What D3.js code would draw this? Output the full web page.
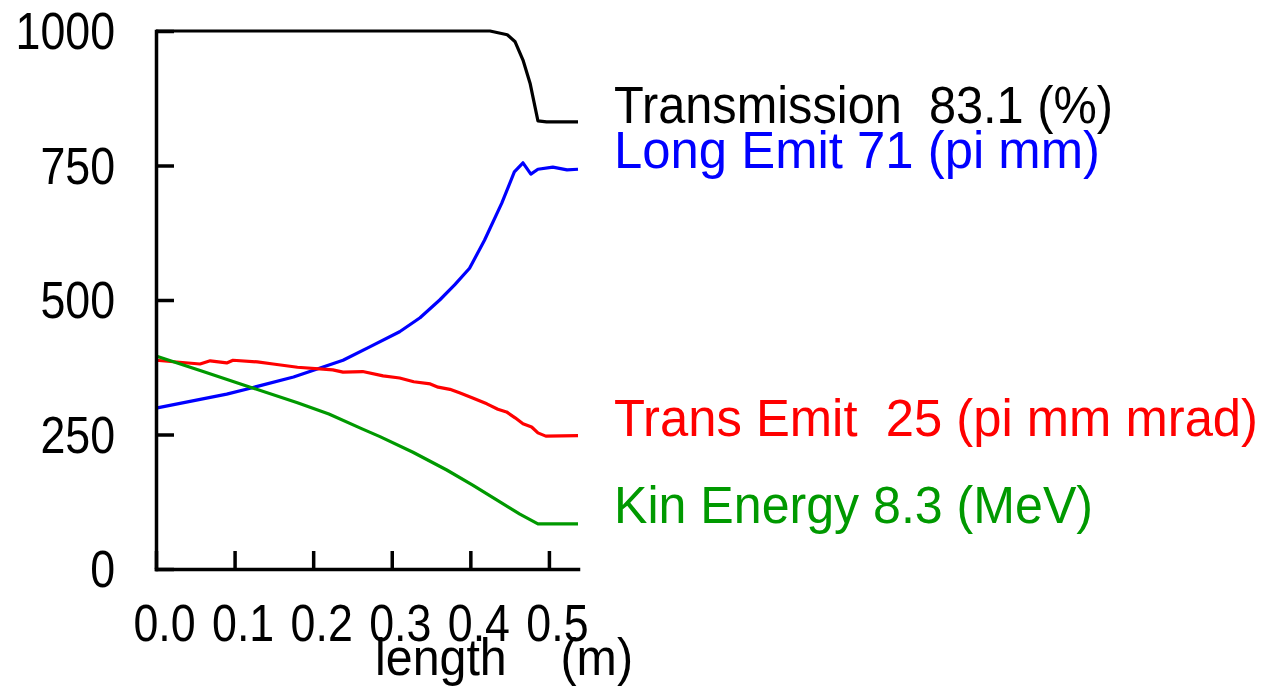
<!DOCTYPE html>
<html>
<head>
<meta charset="utf-8">
<script src="https://cdn.jsdelivr.net/npm/d3@7"></script>
<style>
  html, body { margin: 0; padding: 0; background: #fff; }
  svg text { font-family: "Liberation Sans", Arial, sans-serif; white-space: pre; }
</style>
</head>
<body>
<svg id="chart" width="1268" height="688"></svg>
<script>
// ---- data ----
const xTicks = [0.0, 0.1, 0.2, 0.3, 0.4, 0.5];
const yTicks = [0, 250, 500, 750, 1000];
const xLabel = "length    (m)";

const transX = [0, 0.42, 0.425, 0.447, 0.457, 0.467, 0.476, 0.486, 0.497, 0.537];
const transY = [1000, 1000, 1000, 993, 980, 946, 903, 833, 831, 831];

const longX = [0, 0.09, 0.12, 0.175, 0.238, 0.272, 0.31, 0.336, 0.361, 0.38, 0.399, 0.418, 0.44, 0.456, 0.467, 0.477, 0.486, 0.505, 0.523, 0.537];
const longY = [299, 325, 336, 357, 388, 413, 441, 467, 500, 528, 559, 611, 680, 738, 755, 734, 743, 747, 742, 743];

const tEmitX = [0, 0.056, 0.069, 0.09, 0.098, 0.129, 0.149, 0.18, 0.225, 0.238, 0.263, 0.289, 0.31, 0.328, 0.349, 0.359, 0.374, 0.387, 0.403, 0.421, 0.435, 0.446, 0.457, 0.467, 0.478, 0.486, 0.496, 0.537];
const tEmitY = [388, 381, 387, 383, 388, 385, 381, 375, 370, 366, 367, 359, 355, 348, 344, 338, 334, 327, 318, 307, 297, 292, 281, 270, 264, 253, 247, 248];

const kinX = [0, 0.06, 0.12, 0.18, 0.22, 0.263, 0.285, 0.327, 0.37, 0.403, 0.434, 0.463, 0.486, 0.537];
const kinY = [396, 367, 338, 309, 288, 260, 246, 217, 184, 156, 128, 102, 84, 84];

const legendLabels = ["Transmission  83.1 (%)", "Long Emit 71 (pi mm)", "Trans Emit  25 (pi mm mrad)", "Kin Energy 8.3 (MeV)"];
const seriesColors = ["#000000", "#0000ff", "#ff0000", "#009900"];

// ---- layout ----
const svg = d3.select("#chart");
const FS = 52, SQUEEZE = 0.86;
const x = d3.scaleLinear().domain([0, 0.537]).range([156, 578]);
const y = d3.scaleLinear().domain([0, 1000]).range([569, 31]);

const series = [
  {xs: transX, ys: transY},
  {xs: longX, ys: longY},
  {xs: tEmitX, ys: tEmitY},
  {xs: kinX, ys: kinY}
];

const line = d3.line().x(d => x(d[0])).y(d => y(d[1]));
series.forEach((s, i) => {
  svg.append("path")
    .datum(s.xs.map((v, j) => [v, s.ys[j]]))
    .attr("d", line)
    .attr("fill", "none")
    .attr("stroke", seriesColors[i])
    .attr("stroke-width", 3.2)
    .attr("stroke-linejoin", "round");
});

// axes
const gy = svg.append("g").attr("transform", "translate(156,0)")
  .call(d3.axisLeft(y).tickValues(yTicks).tickSize(-18).tickSizeOuter(0).tickPadding(41).tickFormat(d3.format("d")));
const gx = svg.append("g").attr("transform", "translate(0,569)")
  .call(d3.axisBottom(x).tickValues(xTicks).tickSize(-18).tickSizeOuter(0).tickPadding(35).tickFormat(d3.format(".1f")));

[gy, gx].forEach(g => {
  g.select(".domain").attr("stroke", "#000").attr("stroke-width", 3.5).attr("stroke-linecap", "square");
  g.selectAll(".tick line").attr("stroke", "#000").attr("stroke-width", 3.5);
  g.selectAll("text").attr("font-size", FS).attr("fill", "#000")
    .attr("font-family", "Liberation Sans, Arial, sans-serif");
});
gy.selectAll("text").attr("dy", "0.34em");
gx.selectAll("text").attr("x", 8);

function squeeze(sel, factor) {
  sel.each(function() {
    const w = this.getComputedTextLength();
    d3.select(this).attr("textLength", w * factor).attr("lengthAdjust", "spacingAndGlyphs");
  });
}
squeeze(gy.selectAll("text"), SQUEEZE);
squeeze(gx.selectAll("text"), SQUEEZE);

// x label
svg.append("text")
  .attr("x", 375).attr("y", 675)
  .attr("font-size", FS)
  .attr("textLength", 258).attr("lengthAdjust", "spacingAndGlyphs")
  .text(xLabel);

// legend texts
const legBase = [123, 168, 436, 523];
const legW = [499, 486, 644, 479];
legendLabels.forEach((t, i) => {
  svg.append("text")
    .attr("x", 614).attr("y", legBase[i])
    .attr("font-size", 51)
    .attr("fill", seriesColors[i])
    .attr("textLength", legW[i]).attr("lengthAdjust", "spacingAndGlyphs")
    .text(t);
});
</script>
</body>
</html>
